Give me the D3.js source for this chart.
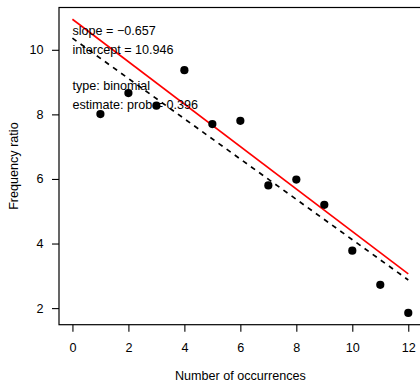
<!DOCTYPE html>
<html>
<head>
<meta charset="utf-8">
<script src="https://cdn.jsdelivr.net/npm/d3@7"></script>
<style>
  html, body { margin: 0; padding: 0; background: #fff; }
  svg { display: block; font-family: "Liberation Sans", Arial, Helvetica, sans-serif; }
</style>
</head>
<body>
<script>
// Observed frequency ratios by number of occurrences
const occurrences = [1, 2, 3, 4, 5, 6, 7, 8, 9, 10, 11, 12];
const freqRatio = [8.01, 8.66, 8.27, 9.37, 7.70, 7.80, 5.80, 5.98, 5.20, 3.78, 2.72, 1.85];

// Fitted regression line (red) and binomial expectation (dashed)
const fitSlope = -0.657;
const fitIntercept = 10.946;
const binomSlope = -0.624;
const binomIntercept = 10.36;

const xTicks = [0, 2, 4, 6, 8, 10, 12];
const yTicks = [2, 4, 6, 8, 10];
const annotations = ["slope = \u22120.657", "intercept = 10.946", "type: binomial", "estimate: prob = 0.396"];

const W = 420, H = 383;
const plot = { left: 59, top: 7.5, right: 421.7, bottom: 324.7 };
const fs = 12.6;

// R-style 4% axis extension
function extend(lo, hi) { const d = (hi - lo) * 0.04; return [lo - d, hi + d]; }

const xLim = extend(0, 12);
const yLo = Math.min(d3.min(freqRatio), fitIntercept + fitSlope * 12);
const yHi = Math.max(d3.max(freqRatio), fitIntercept);
const yLim = extend(yLo, yHi);

const x = d3.scaleLinear().domain(xLim).range([plot.left, plot.right]);
const y = d3.scaleLinear().domain(yLim).range([plot.bottom, plot.top]);

const svg = d3.select("body").append("svg").attr("width", W).attr("height", H);

// Reference lines
const lineGen = d3.line().x(d => x(d[0])).y(d => y(d[1]));
svg.append("path")
  .attr("d", lineGen([[0, binomIntercept], [12, binomIntercept + binomSlope * 12]]))
  .attr("fill", "none").attr("stroke", "#000").attr("stroke-width", 1.7)
  .attr("stroke-dasharray", "5,5");
svg.append("path")
  .attr("d", lineGen([[0, fitIntercept], [12, fitIntercept + fitSlope * 12]]))
  .attr("fill", "none").attr("stroke", "#ff0000").attr("stroke-width", 1.6);

// Points
svg.append("g").selectAll("circle")
  .data(occurrences.map((o, i) => [o, freqRatio[i]]))
  .join("circle")
  .attr("cx", d => x(d[0])).attr("cy", d => y(d[1]))
  .attr("r", 4.1).attr("fill", "#000");

// Annotation text
const textY = [35, 54.3, 90, 109.3];
svg.append("g").selectAll("text")
  .data(annotations)
  .join("text")
  .attr("x", x(0))
  .attr("y", (d, i) => textY[i])
  .attr("font-size", fs)
  .attr("fill", "#000")
  .text(d => d);

// Box
svg.append("rect")
  .attr("x", plot.left).attr("y", plot.top)
  .attr("width", plot.right - plot.left).attr("height", plot.bottom - plot.top)
  .attr("fill", "none").attr("stroke", "#000").attr("stroke-width", 1.2);

// Axes
const xAxis = svg.append("g")
  .attr("transform", `translate(0,${plot.bottom})`)
  .call(d3.axisBottom(x).tickValues(xTicks).tickSize(7).tickPadding(11.6).tickFormat(d3.format("d")));
const yAxis = svg.append("g")
  .attr("transform", `translate(${plot.left},0)`)
  .call(d3.axisLeft(y).tickValues(yTicks).tickSize(7).tickPadding(8.5).tickFormat(d3.format("d")));
[xAxis, yAxis].forEach(g => {
  g.select(".domain").remove();
  g.selectAll(".tick line").attr("stroke", "#000").attr("stroke-width", 1.1);
  g.selectAll(".tick text").attr("font-size", fs).attr("fill", "#000")
    .attr("font-family", "Liberation Sans, Arial, sans-serif");
});

// Axis titles
svg.append("text")
  .attr("x", (plot.left + plot.right) / 2).attr("y", 380)
  .attr("text-anchor", "middle").attr("font-size", fs)
  .text("Number of occurrences");
svg.append("text")
  .attr("transform", `translate(17.5,${(plot.top + plot.bottom) / 2}) rotate(-90)`)
  .attr("text-anchor", "middle").attr("font-size", fs)
  .text("Frequency ratio");
</script>
</body>
</html>
